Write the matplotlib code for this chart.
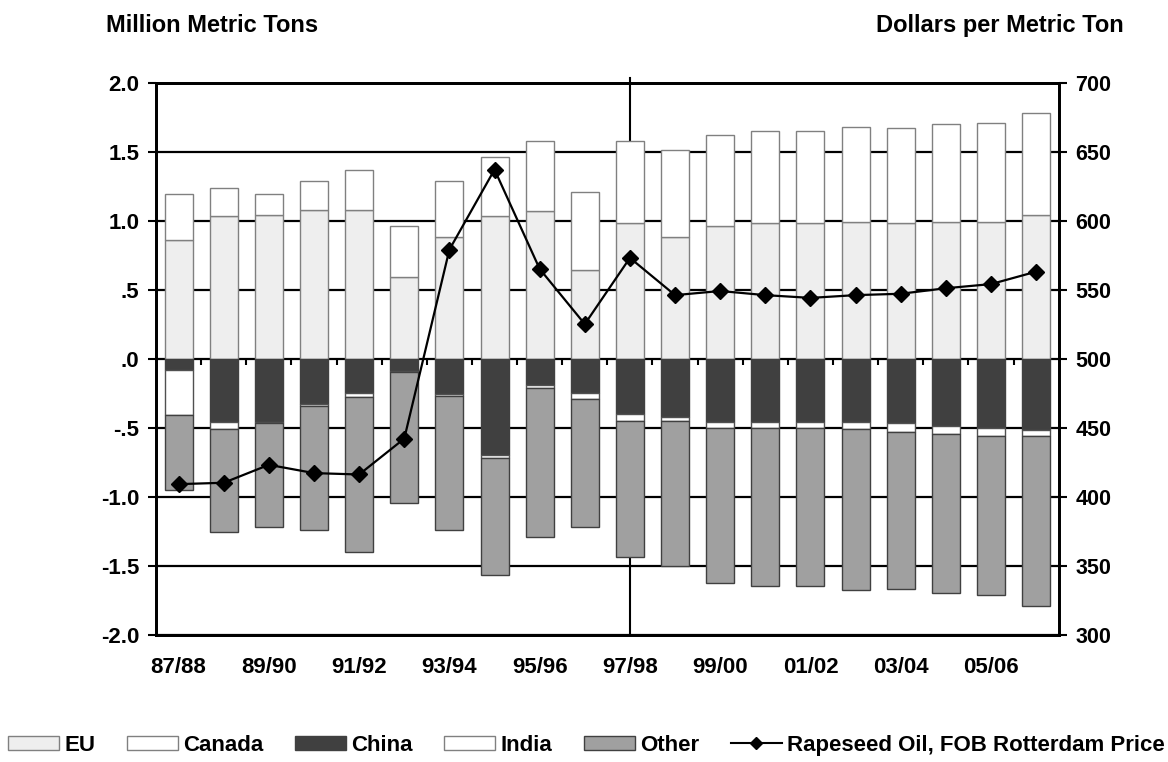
import numpy as np
import matplotlib
matplotlib.use('Agg')
import matplotlib.pyplot as plt
from matplotlib.patches import Patch
from matplotlib.lines import Line2D

plt.rcParams['font.family'] = ['Liberation Sans', 'DejaVu Sans']
plt.rcParams['font.weight'] = 'bold'

years = ['87/88', '88/89', '89/90', '90/91', '91/92', '92/93', '93/94', '94/95', '95/96', '96/97',
         '97/98', '98/99', '99/00', '00/01', '01/02', '02/03', '03/04', '04/05', '05/06', '06/07']

# exporters (million metric tons)
eu = [0.86, 1.03, 1.04, 1.08, 1.08, 0.59, 0.88, 1.03, 1.07, 0.64,
      0.98, 0.88, 0.96, 0.98, 0.98, 0.99, 0.98, 0.99, 0.99, 1.04]
canada = [0.33, 0.21, 0.15, 0.21, 0.29, 0.37, 0.41, 0.43, 0.51, 0.57,
          0.60, 0.63, 0.66, 0.67, 0.67, 0.69, 0.69, 0.71, 0.72, 0.74]

# importers (negative)
china = [-0.08, -0.46, -0.46, -0.33, -0.25, -0.09, -0.26, -0.70, -0.19, -0.25,
         -0.40, -0.42, -0.46, -0.46, -0.46, -0.46, -0.47, -0.49, -0.50, -0.52]
india = [-0.33, -0.05, -0.01, -0.01, -0.03, -0.01, -0.01, -0.02, -0.02, -0.04,
         -0.05, -0.03, -0.04, -0.04, -0.04, -0.05, -0.06, -0.06, -0.06, -0.04]
other = [-0.54, -0.75, -0.75, -0.90, -1.12, -0.95, -0.97, -0.85, -1.08, -0.93,
         -0.99, -1.05, -1.13, -1.15, -1.15, -1.17, -1.14, -1.15, -1.15, -1.23]

# Rapeseed oil, FOB Rotterdam ($/metric ton)
price = [409, 410, 423, 417, 416, 442, 579, 637, 565, 525,
         573, 546, 549, 546, 544, 546, 547, 551, 554, 563]

left_labels = ['2.0', '1.5', '1.0', '.5', '.0', '-.5', '-1.0', '-1.5', '-2.0']
left_ticks = [2.0, 1.5, 1.0, 0.5, 0.0, -0.5, -1.0, -1.5, -2.0]

c_eu = '#eeeeee'
c_can = '#ffffff'
c_china = '#404040'
c_india = '#ffffff'
c_other = '#a0a0a0'

fig = plt.figure(figsize=(11.68, 7.62), dpi=100)
ax = fig.add_axes([0.1336, 0.1673, 0.7728, 0.7242])

x = np.arange(len(years))
w = 0.62
eu = np.array(eu)
china = np.array(china)
india = np.array(india)

ax.bar(x, eu, w, color=c_eu, edgecolor='#808080', linewidth=1, zorder=2)
ax.bar(x, canada, w, bottom=eu, color=c_can, edgecolor='#808080', linewidth=1, zorder=2)
ax.bar(x, china, w, color=c_china, edgecolor='#404040', linewidth=1, zorder=2)
ax.bar(x, india, w, bottom=china, color=c_india, edgecolor='#505050', linewidth=1, zorder=2)
ax.bar(x, other, w, bottom=china + india, color=c_other, edgecolor='#404040', linewidth=1, zorder=2)

ax.set_xlim(-0.5, len(years) - 0.5)
ax.set_ylim(-2.0, 2.0)
ax.set_yticks(left_ticks)
ax.set_yticklabels(left_labels)

for t in left_ticks:
    ax.axhline(t, color='black', linewidth=1.6, zorder=1)

# vertical divider at 97/98
ax.axvline(10, ymin=0, ymax=1.008, color='black', linewidth=1.5, zorder=1, clip_on=False)

# category ticks on the zero line
ax.vlines(np.arange(0.5, len(years) - 1), 0, -0.045, color='black', linewidth=1.5, zorder=3)

ax.set_xticks(x[::2])
ax.set_xticklabels(years[::2])
ax.tick_params(axis='x', length=0, pad=16, labelsize=16)
ax.tick_params(axis='y', length=6, width=1.5, direction='out', labelsize=16, pad=6)
for s in ax.spines.values():
    s.set_linewidth(2)

ax2 = ax.twinx()
ax2.set_ylim(300, 700)
ax2.set_yticks(np.arange(300, 701, 50))
ax2.tick_params(axis='y', length=6, width=1.5, direction='out', labelsize=15.5, pad=6)
ax2.plot(x, price, color='black', linewidth=1.6, marker='D', markersize=8, zorder=5)
for s in ax2.spines.values():
    s.set_linewidth(2)

fig.text(0.0908, 0.967, 'Million Metric Tons', fontsize=17, fontweight='bold', va='center', ha='left')
fig.text(0.9623, 0.967, 'Dollars per Metric Ton', fontsize=17, fontweight='bold', va='center', ha='right')

handles = [
    Patch(facecolor=c_eu, edgecolor='#808080'),
    Patch(facecolor=c_can, edgecolor='#808080'),
    Patch(facecolor=c_china, edgecolor='#404040'),
    Patch(facecolor=c_india, edgecolor='#808080'),
    Patch(facecolor=c_other, edgecolor='#404040'),
    Line2D([0], [0], color='black', linewidth=1.5, marker='D', markersize=6),
]
labels = ['EU', 'Canada', 'China', 'India', 'Other', 'Rapeseed Oil, FOB Rotterdam Price']
fig.legend(handles, labels, loc='center', bbox_to_anchor=(0.007, 0.0, 0.99, 0.044), mode='expand',
           ncol=6, frameon=False, borderaxespad=0, borderpad=0,
           fontsize=16, handlelength=2.3, handleheight=0.6, handletextpad=0.22, columnspacing=0.8)

fig.savefig('out.png', dpi=100)
